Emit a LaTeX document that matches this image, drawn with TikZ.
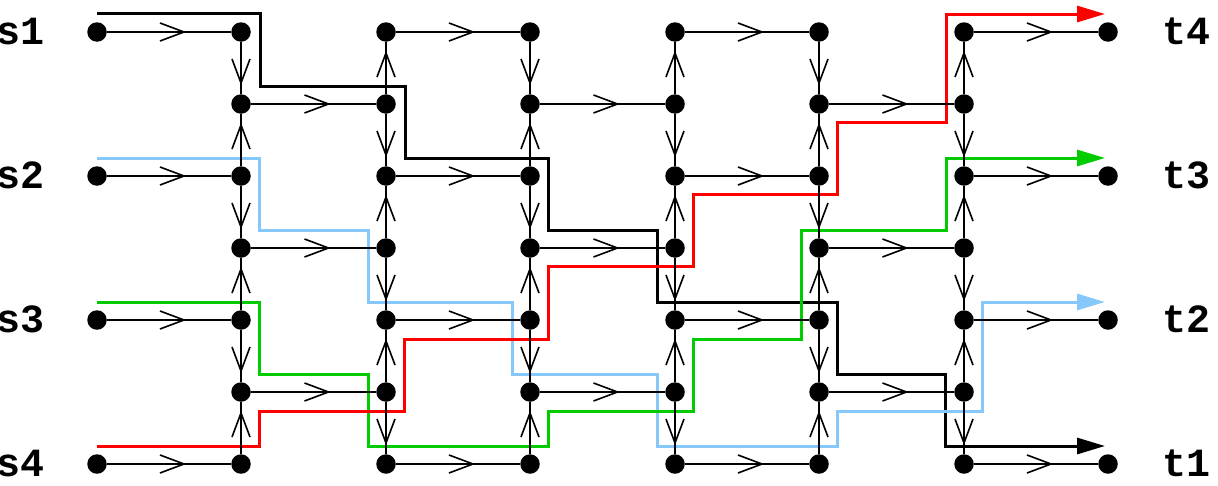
\documentclass[tikz,border=0pt]{standalone}
\usepackage{fontspec}
\setmonofont{Liberation Mono}
\usetikzlibrary{arrows.meta,decorations.markings}
\definecolor{pathred}{RGB}{255,0,0}
\definecolor{pathgreen}{RGB}{0,204,0}
\definecolor{pathblue}{RGB}{135,200,250}
\tikzset{
  gdot/.style={circle,fill=black,inner sep=0pt,minimum size=19.5pt},
  gedge/.style={line width=1.6pt,postaction={decorate},
    decoration={markings,mark=at position 0.5 with {\draw[line width=1.6pt] (-9pt,9pt) -- (15pt,0pt) -- (-9pt,-9pt);}}},
  route/.style={line width=3pt,-{Triangle[length=28pt,width=16pt]}},
  lab/.style={inner sep=0pt,font=\ttfamily\bfseries\fontsize{40}{44}\selectfont},
}
\begin{document}
\begin{tikzpicture}[x=1pt,y=-1pt]
\useasboundingbox (0,0) rectangle (1218,485);
% grid nodes
\foreach \c/\x in {1/241,2/386,3/530,4/675,5/819,6/964}{
  \foreach \r in {0,...,6}{
    \node[gdot] (n\c-\r) at (\x,{32+72*\r}) {};
  }
}
\foreach \r in {0,2,4,6}{
  \node[gdot] (s\r) at (97,{32+72*\r}) {};
  \node[gdot] (t\r) at (1108,{32+72*\r}) {};
}
% labels
\foreach \r/\slab/\tlab in {0/s1/t4,2/s2/t3,4/s3/t2,6/s4/t1}{
  \node[lab,anchor=base east] (l\slab) at (45,{44+72*\r}) {\slab};
  \node[lab,anchor=base west] (l\tlab) at (1162,{44+72*\r}) {\tlab};
}
% routes
\draw[route,black] ([yshift=19pt]s0.center)
  -| ([xshift=19pt,yshift=18pt]n1-1.center)
  -| ([xshift=19pt,yshift=18pt]n2-2.center)
  -| ([xshift=18pt,yshift=18pt]n3-3.center)
  -| ([xshift=-18pt,yshift=18pt]n4-4.center)
  -| ([xshift=18pt,yshift=18pt]n5-5.center)
  -| ([xshift=-19pt,yshift=18pt]n6-6.center)
  -- ([xshift=-3pt,yshift=18pt]t6.center);
\draw[route,pathblue] ([yshift=18pt]s2.center)
  -| ([xshift=18pt,yshift=18pt]n1-3.center)
  -| ([xshift=-18pt,yshift=18pt]n2-4.center)
  -| ([xshift=-18pt,yshift=18pt]n3-5.center)
  -| ([xshift=-18pt,yshift=18pt]n4-6.center)
  -| ([xshift=18pt,yshift=-19pt]n5-5.center)
  -| ([xshift=18pt,yshift=18pt]n6-4.center)
  -- ([xshift=-3pt,yshift=18pt]t4.center);
\draw[route,pathgreen] ([yshift=18pt]s4.center)
  -| ([xshift=18pt,yshift=18pt]n1-5.center)
  -| ([xshift=-18pt,yshift=18pt]n2-6.center)
  -| ([xshift=18pt,yshift=-19pt]n3-5.center)
  -| ([xshift=18pt,yshift=-19pt]n4-4.center)
  -| ([xshift=-18pt,yshift=18pt]n5-3.center)
  -| ([xshift=-18pt,yshift=18pt]n6-2.center)
  -- ([xshift=-3pt,yshift=18pt]t2.center);
\draw[route,pathred] ([yshift=18pt]s6.center)
  -| ([xshift=18pt,yshift=-19pt]n1-5.center)
  -| ([xshift=18pt,yshift=-19pt]n2-4.center)
  -| ([xshift=18pt,yshift=-18pt]n3-3.center)
  -| ([xshift=18pt,yshift=-18pt]n4-2.center)
  -| ([xshift=18pt,yshift=-18pt]n5-1.center)
  -| ([xshift=-18pt,yshift=18pt]n6-0.center)
  -- ([xshift=-3pt,yshift=18pt]t0.center);
% horizontal edges
\foreach \r in {0,2,4,6}{
  \draw[gedge] (s\r) -- (n1-\r);
  \draw[gedge] (n2-\r) -- (n3-\r);
  \draw[gedge] (n4-\r) -- (n5-\r);
  \draw[gedge] (n6-\r) -- (t\r);
}
\foreach \r in {1,3,5}{
  \draw[gedge] (n1-\r) -- (n2-\r);
  \draw[gedge] (n3-\r) -- (n4-\r);
  \draw[gedge] (n5-\r) -- (n6-\r);
}
% vertical edges
\foreach \c in {1,3,5}{
  \foreach \a/\b in {0/1,2/1,2/3,4/3,4/5,6/5}{
    \draw[gedge] (n\c-\a) -- (n\c-\b);
  }
}
\foreach \c in {2,4,6}{
  \foreach \a/\b in {1/0,1/2,3/2,3/4,5/4,5/6}{
    \draw[gedge] (n\c-\a) -- (n\c-\b);
  }
}
\end{tikzpicture}
\end{document}
